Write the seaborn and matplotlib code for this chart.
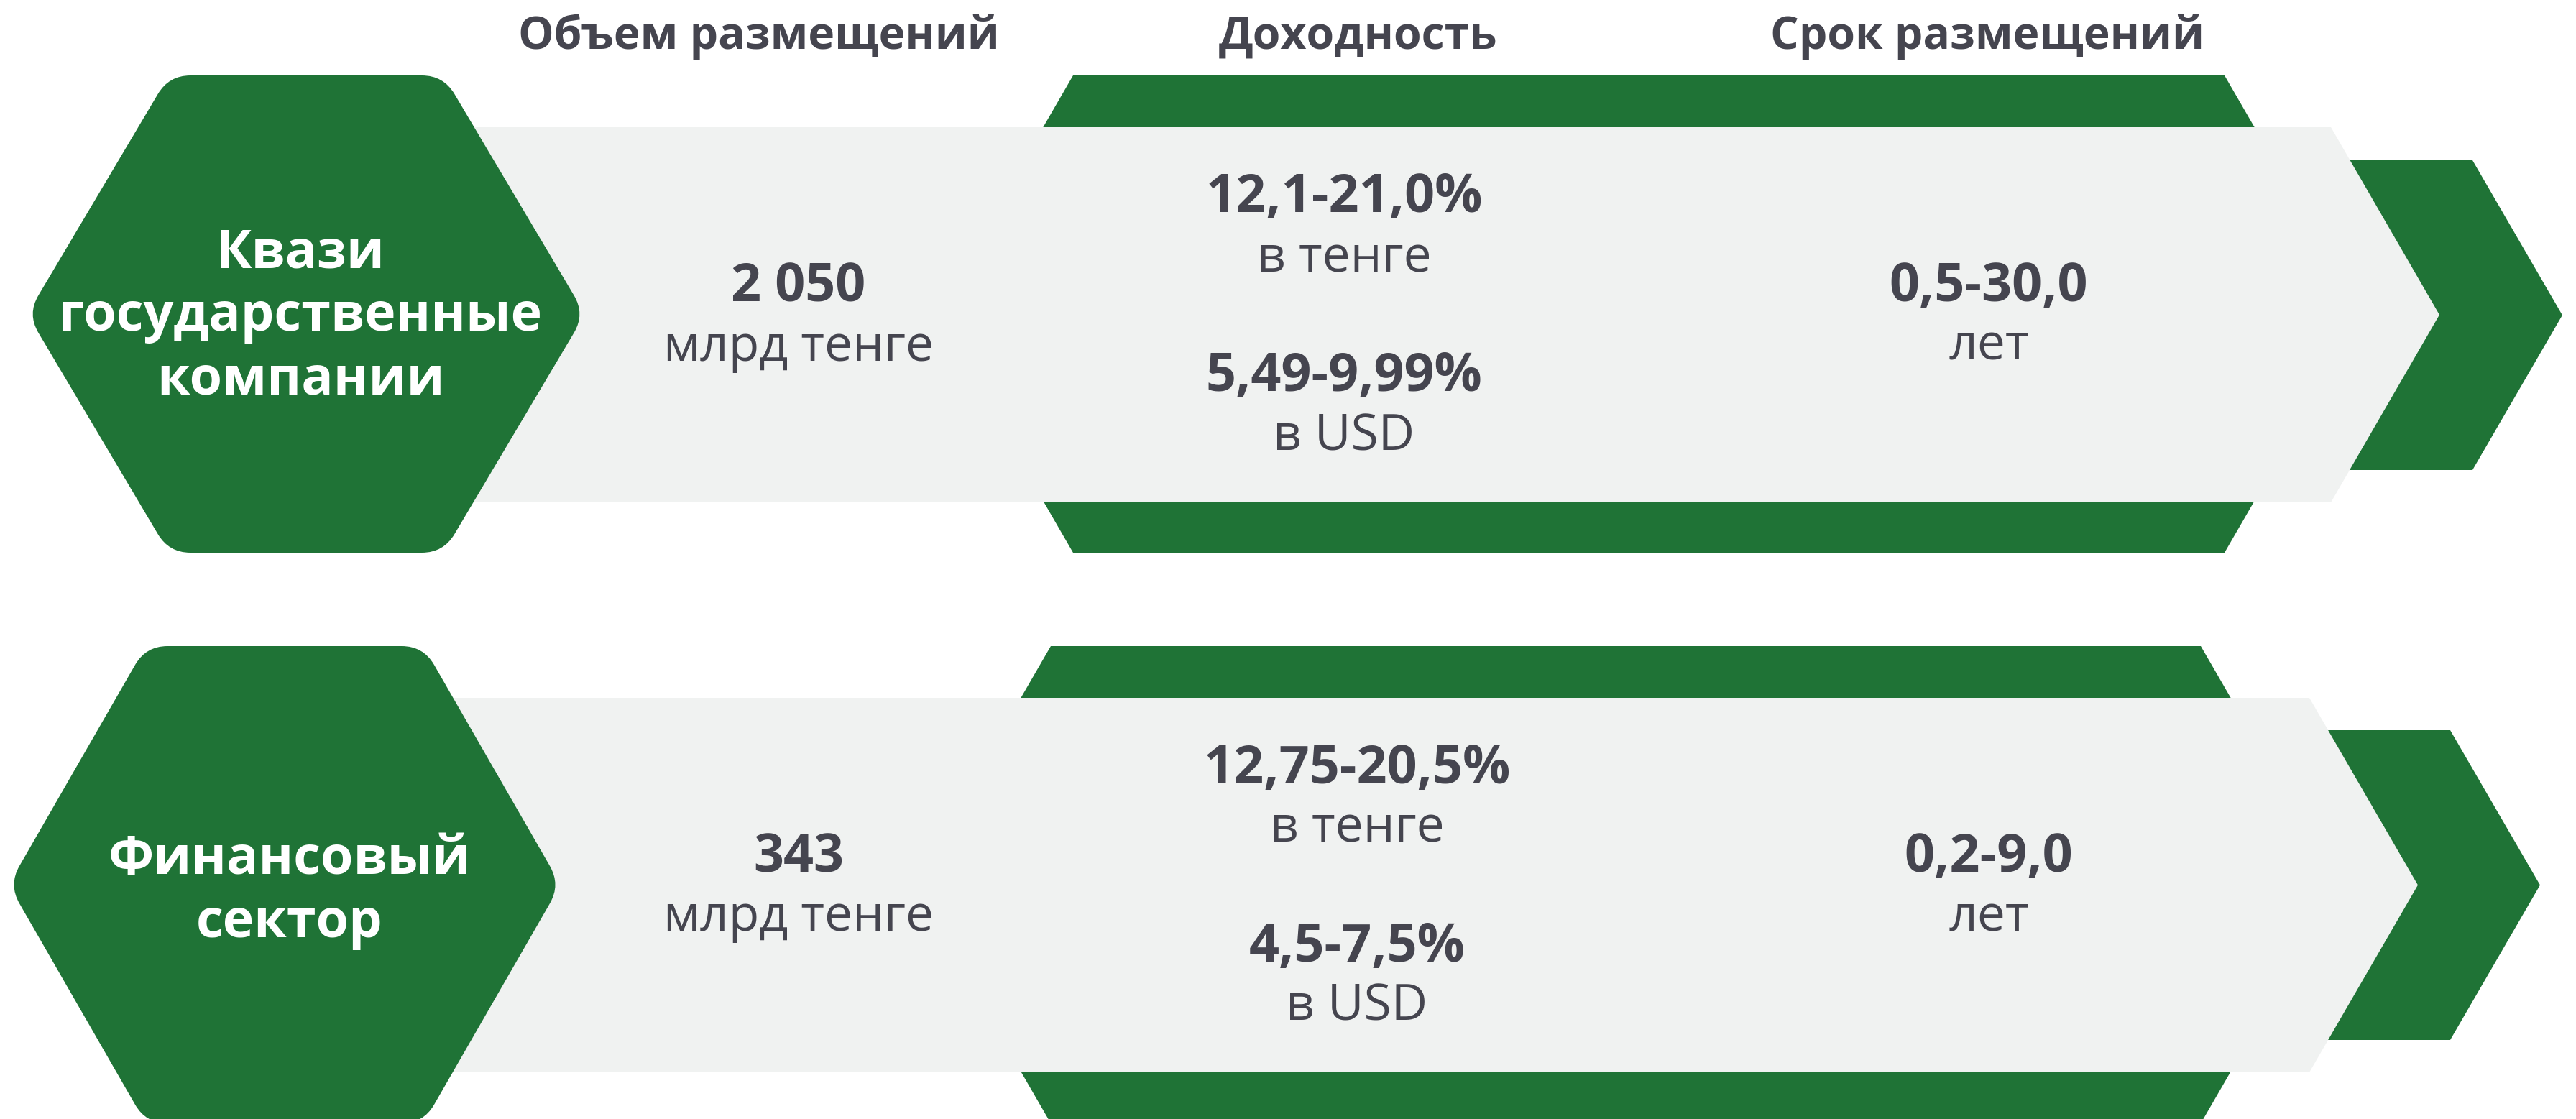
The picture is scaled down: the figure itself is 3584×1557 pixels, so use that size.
import numpy as np
import seaborn as sns
import matplotlib.pyplot as plt
from matplotlib.path import Path
from matplotlib.patches import PathPatch


# --------- Data ---------
headers = ["Объем размещений", "Доходность", "Срок размещений"]
sectors = [["Квази", "государственные", "компании"], ["Финансовый", "сектор"]]
volumes = ["2 050", "343"]
volume_unit = "млрд тенге"
yield_kzt = ["12,1-21,0%", "12,75-20,5%"]
yield_usd = ["5,49-9,99%", "4,5-7,5%"]
kzt_label = "в тенге"
usd_label = "в USD"
terms = ["0,5-30,0", "0,2-9,0"]
term_unit = "лет"

# --------- Style ---------
GREEN = "#1f7336"
GRAY = "#f0f2f1"
DARK = "#45454f"

sns.set_theme(style="white")
plt.rcParams['font.family'] = ['Open Sans', 'DejaVu Sans']

W, H = 3584, 1557
fig = plt.figure(figsize=(W / 100, H / 100), dpi=100)
ax = fig.add_axes([0, 0, 1, 1])
ax.set_xlim(0, W)
ax.set_ylim(H, 0)
ax.axis('off')


def rounded_poly(pts, d):
    pts = np.asarray(pts, float)
    n = len(pts)
    verts, codes = [], []
    for i in range(n):
        p0, p1, p2 = pts[i - 1], pts[i], pts[(i + 1) % n]
        a = p1 + (p0 - p1) / np.linalg.norm(p0 - p1) * d
        b = p1 + (p2 - p1) / np.linalg.norm(p2 - p1) * d
        verts.append(a)
        codes.append(Path.MOVETO if i == 0 else Path.LINETO)
        verts += [p1, b]
        codes += [Path.CURVE3, Path.CURVE3]
    verts.append(verts[0])
    codes.append(Path.CLOSEPOLY)
    return Path(verts, codes)


def hexagon(cx, half_top, half_w, top, bottom):
    mid = (top + bottom) / 2
    return [(cx - half_top, top), (cx + half_top, top), (cx + half_w, mid),
            (cx + half_top, bottom), (cx - half_top, bottom), (cx - half_w, mid)]


def arrow_band(x0, x1, tip, top, bottom):
    mid = (top + bottom) / 2
    return [(x0, top), (x1, top), (tip, mid), (x1, bottom), (x0, bottom)]


def fill(pts, color, z, d=0):
    if d:
        path = rounded_poly(pts, d)
    else:
        path = Path(list(pts) + [pts[0]], closed=True)
    ax.add_patch(PathPatch(path, facecolor=color, edgecolor='none', zorder=z))


# --------- Layout (pixels) ---------
rows = [
    dict(hex=(426, 191, 388, 105, 769), back=(2294, 801, 993, 105, 769),
         band=(560, 3243, 3394, 177, 699), chev=(3200, 3440, 3565, 223, 654),
         sector_x=418, sector_y=[372, 460, 548],
         vol_y=(419, 502), yld_x=1870, yld_y=(295, 378, 544, 626), term_y=(419, 500)),
    dict(hex=(396, 193, 384, 899, 1563), back=(2262, 800, 992, 899, 1563),
         band=(540, 3213, 3364, 971, 1492), chev=(3170, 3409, 3534, 1016, 1447),
         sector_x=403, sector_y=[1216, 1304],
         vol_y=(1213, 1295), yld_x=1888, yld_y=(1090, 1171, 1338, 1420), term_y=(1213, 1295)),
]
col_x = [1056, 1889, 2765]
vol_x = 1111
term_x = 2767

BIG = 53
UNIT = 50

for x, h in zip(col_x, headers):
    ax.text(x, 68, h, ha='center', va='baseline', fontsize=45,
            fontweight='bold', color=DARK)

for i, r in enumerate(rows):
    fill(hexagon(*r['back']), GREEN, 1)
    fill(arrow_band(*r['chev']), GREEN, 1)
    fill(arrow_band(*r['band']), GRAY, 2)
    fill(hexagon(*r['hex']), GREEN, 3, d=30)

    for line, y in zip(sectors[i], r['sector_y']):
        ax.text(r['sector_x'], y, line, ha='center', va='baseline',
                fontsize=BIG, fontweight='bold', color='white', zorder=5)

    ax.text(vol_x, r['vol_y'][0], volumes[i], ha='center', va='baseline',
            fontsize=BIG, fontweight='bold', color=DARK, zorder=5)
    ax.text(vol_x, r['vol_y'][1], volume_unit, ha='center', va='baseline',
            fontsize=UNIT, color=DARK, zorder=5)

    yy = r['yld_y']
    ax.text(r['yld_x'], yy[0], yield_kzt[i], ha='center', va='baseline',
            fontsize=BIG, fontweight='bold', color=DARK, zorder=5)
    ax.text(r['yld_x'], yy[1], kzt_label, ha='center', va='baseline',
            fontsize=UNIT, color=DARK, zorder=5)
    ax.text(r['yld_x'], yy[2], yield_usd[i], ha='center', va='baseline',
            fontsize=BIG, fontweight='bold', color=DARK, zorder=5)
    ax.text(r['yld_x'], yy[3], usd_label, ha='center', va='baseline',
            fontsize=UNIT, color=DARK, zorder=5)

    ax.text(term_x, r['term_y'][0], terms[i], ha='center', va='baseline',
            fontsize=BIG, fontweight='bold', color=DARK, zorder=5)
    ax.text(term_x, r['term_y'][1], term_unit, ha='center', va='baseline',
            fontsize=UNIT, color=DARK, zorder=5)

fig.savefig("out.png", dpi=100, facecolor='white')
